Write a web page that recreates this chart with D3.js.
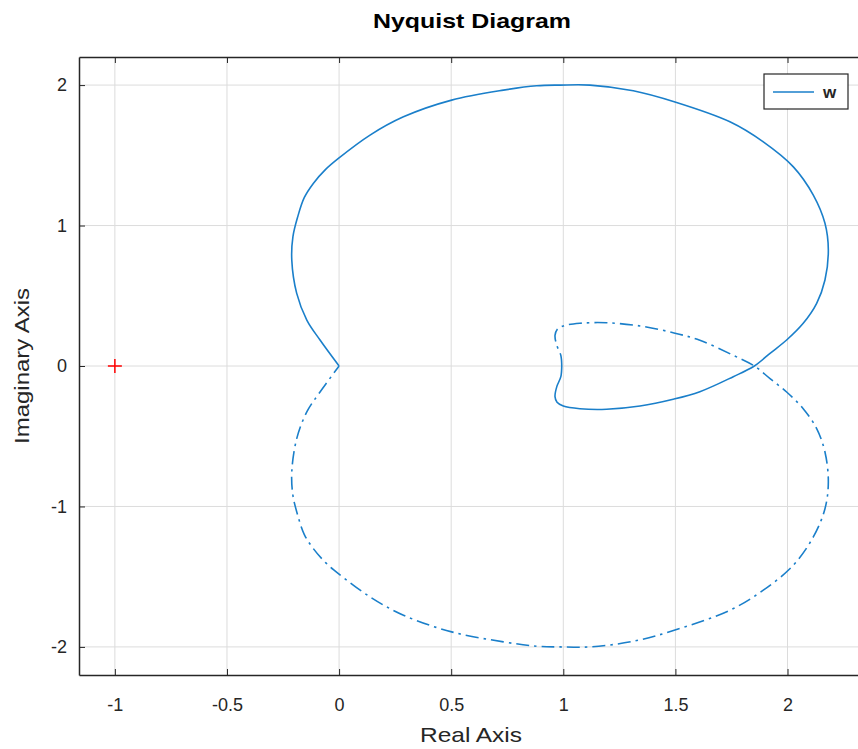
<!DOCTYPE html>
<html>
<head>
<meta charset="utf-8">
<script src="https://cdn.jsdelivr.net/npm/d3@7"></script>
<style>
  body { margin: 0; background: white; }
  text { font-family: "Liberation Sans", Arial, sans-serif; }
</style>
</head>
<body>
<div id="chart"></div>
<script>
//DATA (positive frequencies from w=0 to w=inf)
var posRe = [0.993, 0.989, 0.971, 0.963, 0.972, 1.0, 1.074, 1.193, 1.342, 1.49, 1.609, 1.758,
    1.852, 1.922, 1.996, 2.07, 2.13, 2.167, 2.182, 2.167, 2.115, 2.026, 1.892, 1.743, 1.498,
    1.312, 1.119, 0.985, 0.881, 0.733, 0.502, 0.287, 0.138, -0.003, -0.06, -0.115, -0.155, -0.185,
    -0.206, -0.211, -0.189, -0.144, -0.085, 0];
var posIm = [0, -0.076, -0.147, -0.218, -0.258, -0.285, -0.304, -0.308, -0.285, -0.237, -0.183, -0.076,
    0, 0.09, 0.185, 0.304, 0.446, 0.612, 0.826, 1.016, 1.217, 1.418, 1.596, 1.739, 1.88,
    1.96, 2.0, 2.0, 1.995, 1.964, 1.893, 1.774, 1.644, 1.478, 1.40, 1.30, 1.20, 1.06,
    0.92, 0.754, 0.517, 0.327, 0.185, 0];

var criticalPoint = [-1, 0];
var xTicks = [-1, -0.5, 0, 0.5, 1, 1.5, 2];
var xTickLabels = ["-1", "-0.5", "0", "0.5", "1", "1.5", "2"];
var yTicks = [-2, -1, 0, 1, 2];
var yTickLabels = ["-2", "-1", "0", "1", "2"];
var xDomain = [-1.16, 2.35];
var yDomain = [-2.2, 2.2];
var legendLabel = "w";

//SIZING
var svgWidth = 858, svgHeight = 749;
var margin = { top: 57, left: 79 };
var width = 787;   // right edge of the axes falls just outside the figure
var height = 618;

var axisColor = "#262626";
var lineColor = "#1a7fca";

var svg = d3.select("#chart").append("svg")
    .attr("width", svgWidth)
    .attr("height", svgHeight);

var g = svg.append("g")
    .attr("transform", "translate(" + margin.left + "," + margin.top + ")");

var x = d3.scaleLinear().domain(xDomain).range([0, width]);
var y = d3.scaleLinear().domain(yDomain).range([height, 0]);

//GRID
g.selectAll(".gx").data(xTicks).enter().append("line")
    .attr("x1", d => x(d)).attr("x2", d => x(d))
    .attr("y1", 0).attr("y2", height)
    .attr("stroke", "#dcdcdc").attr("stroke-width", 1);
g.selectAll(".gy").data(yTicks).enter().append("line")
    .attr("x1", 0).attr("x2", width)
    .attr("y1", d => y(d)).attr("y2", d => y(d))
    .attr("stroke", "#dcdcdc").attr("stroke-width", 1);

//CURVES
var posPts = posRe.map((r, i) => [r, posIm[i]]);
// negative frequencies are the mirror (complex conjugate) of the same readings
var negPts = posPts.map(p => [p[0], -p[1]]);

var line = d3.line()
    .x(d => x(d[0]))
    .y(d => y(d[1]))
    .curve(d3.curveCatmullRom);

g.append("path").datum(negPts)
    .attr("d", line)
    .attr("fill", "none")
    .attr("stroke", lineColor)
    .attr("stroke-width", 1.6)
    .attr("stroke-dasharray", "13,5,2.5,5");

g.append("path").datum(posPts)
    .attr("d", line)
    .attr("fill", "none")
    .attr("stroke", lineColor)
    .attr("stroke-width", 1.6);

//CRITICAL POINT
var cx = x(criticalPoint[0]), cy = y(criticalPoint[1]);
g.append("path")
    .attr("d", "M" + (cx - 7) + "," + cy + "H" + (cx + 7) + "M" + cx + "," + (cy - 7) + "V" + (cy + 7))
    .attr("stroke", "red").attr("stroke-width", 1.5);

//AXES
var xAxis = d3.axisBottom(x).tickValues(xTicks)
    .tickFormat((d, i) => xTickLabels[i])
    .tickSize(-6).tickSizeOuter(0).tickPadding(23);
var xAxisTop = d3.axisTop(x).tickValues(xTicks)
    .tickFormat("").tickSize(-6).tickSizeOuter(0);
var yAxis = d3.axisLeft(y).tickValues(yTicks)
    .tickFormat((d, i) => yTickLabels[i])
    .tickSize(-6).tickSizeOuter(0).tickPadding(12);

var gx = g.append("g").attr("transform", "translate(0," + height + ")").call(xAxis);
var gt = g.append("g").call(xAxisTop);
var gy = g.append("g").call(yAxis);

[gx, gt, gy].forEach(function (a) {
    a.select(".domain").attr("stroke", axisColor).attr("stroke-width", 1.5);
    a.selectAll(".tick line").attr("stroke", axisColor).attr("stroke-width", 1);
    a.selectAll(".tick text")
        .attr("fill", axisColor)
        .style("font-size", "18px")
        .style("font-family", "Liberation Sans, Arial, sans-serif");
});

//TITLE AND LABELS
svg.append("text")
    .attr("x", 472).attr("y", 28)
    .attr("text-anchor", "middle")
    .attr("textLength", 198).attr("lengthAdjust", "spacingAndGlyphs")
    .style("font-size", "21px").style("font-weight", "bold")
    .attr("fill", "#000")
    .text("Nyquist Diagram");

svg.append("text")
    .attr("x", 471).attr("y", 742)
    .attr("text-anchor", "middle")
    .attr("textLength", 102).attr("lengthAdjust", "spacingAndGlyphs")
    .style("font-size", "21px")
    .attr("fill", axisColor)
    .text("Real Axis");

svg.append("text")
    .attr("transform", "translate(29,366) rotate(-90)")
    .attr("text-anchor", "middle")
    .attr("textLength", 156).attr("lengthAdjust", "spacingAndGlyphs")
    .style("font-size", "21px")
    .attr("fill", axisColor)
    .text("Imaginary Axis");

//LEGEND
var legend = svg.append("g").attr("transform", "translate(764,74)");
legend.append("rect")
    .attr("width", 84).attr("height", 35)
    .attr("fill", "white").attr("stroke", axisColor).attr("stroke-width", 1.2);
legend.append("line")
    .attr("x1", 9).attr("x2", 50).attr("y1", 18).attr("y2", 18)
    .attr("stroke", lineColor).attr("stroke-width", 1.6);
legend.append("text")
    .attr("x", 59).attr("y", 24)
    .style("font-size", "17px").style("font-weight", "bold")
    .attr("fill", axisColor)
    .text(legendLabel);
</script>
</body>
</html>
